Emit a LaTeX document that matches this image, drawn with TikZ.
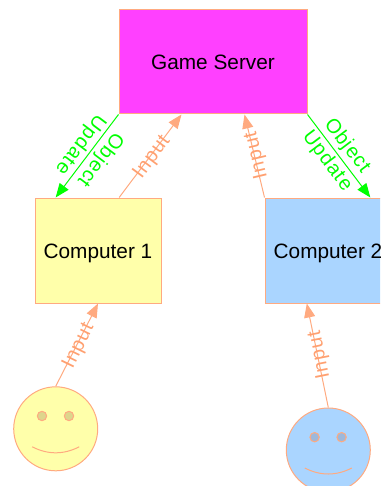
\documentclass[tikz,border=0pt]{standalone}
\usepackage{fontspec}
\setmainfont{Liberation Sans}
\newfontfamily\inputfont[LetterSpace=5]{Liberation Sans}
\newfontfamily\updatefont[LetterSpace=5]{Liberation Sans}
\usetikzlibrary{calc,arrows.meta}
\definecolor{edgesalmon}{HTML}{FFAA80}
\definecolor{labelsalmon}{HTML}{FFA070}
\definecolor{servermagenta}{HTML}{FF40FF}
\definecolor{paleyellow}{HTML}{FFFFAA}
\definecolor{paleblue}{HTML}{AAD5FF}
\definecolor{neongreen}{HTML}{00FF00}
\definecolor{eyeyellow}{HTML}{DDD58C}
\definecolor{eyeblue}{HTML}{9DB8DB}
\tikzset{
  boxnode/.style={draw=edgesalmon,line width=1pt,inner sep=0pt,font=\fontsize{20.8}{25}\selectfont,text=black,text height=15pt,text depth=0pt},
  facenode/.style={circle,draw=edgesalmon,line width=1pt,minimum size=84pt,inner sep=0pt},
  inputline/.style={draw=edgesalmon,line width=1pt,-{Triangle[length=14pt,width=11pt]}},
  updateline/.style={draw=neongreen,line width=1pt,-{Triangle[length=14pt,width=11pt]}},
  inputlabel/.style={font=\inputfont\fontsize{20}{24}\selectfont,text=labelsalmon,inner sep=0pt,text height=14.3pt,text depth=0pt},
  updatelabel/.style={font=\updatefont\fontsize{20}{25}\selectfont,text=neongreen,inner sep=0pt,align=center},
  eye/.style={draw=edgesalmon,line width=1pt},
  smile/.style={draw=edgesalmon,line width=1pt}
}
\begin{document}
\begin{tikzpicture}[x=1pt,y=-1pt]
\clip (0,0) rectangle (380,486);
\node[boxnode,fill=servermagenta,minimum width=188pt,minimum height=104pt] (server) at (213,62) {Game Server};
\node[boxnode,fill=paleyellow,minimum width=126pt,minimum height=105pt] (c1) at (98,250.5) {Computer 1};
\node[boxnode,fill=paleblue,minimum width=126pt,minimum height=105pt] (c2) at (328,250.5) {Computer 2};
\node[facenode,fill=paleyellow] (f1) at (55.7,428.8) {};
\node[facenode,fill=paleblue] (f2) at (328.3,450) {};
% faces
\draw[eye,fill=eyeyellow] ($(f1.center)+(-13.7,-12.8)$) circle (4.7);
\draw[eye,fill=eyeyellow] ($(f1.center)+(13.3,-12.8)$) circle (4.7);
\draw[smile] ($(f1.center)+(-23.5,18)$) .. controls ($(f1.center)+(-8,26)$) and ($(f1.center)+(8,26)$) .. ($(f1.center)+(23.5,18)$);
\draw[eye,fill=eyeblue] ($(f2.center)+(-13.7,-12.8)$) circle (4.7);
\draw[eye,fill=eyeblue] ($(f2.center)+(13.3,-12.8)$) circle (4.7);
\draw[smile] ($(f2.center)+(-23.5,18)$) .. controls ($(f2.center)+(-8,26)$) and ($(f2.center)+(8,26)$) .. ($(f2.center)+(23.5,18)$);
% connectors
\draw[updateline] (server.south west) -- ($(c1.north west)!1/6!(c1.north east)$)
  node[pos=0.45,updatelabel,rotate=-127] {Object\\Update};
\draw[updateline] (server.south east) -- ($(c2.north west)!5/6!(c2.north east)$)
  node[pos=0.47,updatelabel,rotate=-53] {Object\\Update};
\draw[inputline] ($(c1.north west)!2/3!(c1.north east)$) -- ($(server.south west)!1/3!(server.south east)$)
  node[midway,inputlabel,rotate=53.6] {Input};
\draw[inputline] (c2.north west) -- ($(server.south west)!2/3!(server.south east)$)
  node[midway,inputlabel,rotate=103.4] {Input};
\draw[inputline] (f1.north) -- (c1.south)
  node[midway,inputlabel,rotate=64] {Input};
\draw[inputline] (f2.north) -- ($(c2.south west)!1/3!(c2.south east)$)
  node[midway,inputlabel,rotate=101.3] {Input};
\end{tikzpicture}
\end{document}
